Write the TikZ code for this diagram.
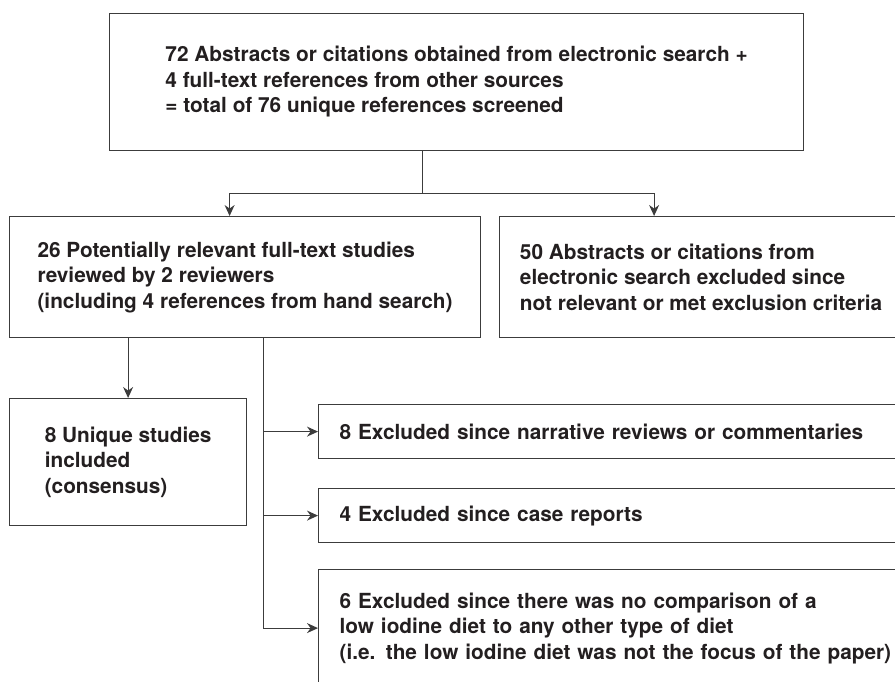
\documentclass[tikz,border=0pt]{standalone}
\usepackage{fontspec}
\setmainfont{TeX Gyre Heros}
\usetikzlibrary{arrows.meta,positioning}

\definecolor{boxline}{RGB}{60,60,60}
\definecolor{boxtext}{RGB}{35,31,32}

\begin{document}
\begin{tikzpicture}[x=1pt, y=-1pt,
	every node/.style={font=\fontsize{20.8}{25.5}\selectfont\bfseries, text=boxtext},
	box/.style={draw=boxline, line width=1.2pt, rectangle, anchor=north west, align=left, inner sep=0pt},
	exclbox/.style={box, text width=580pt, inner xsep=21pt},
	conn/.style={draw=boxline, line width=1.2pt},
	arr/.style={conn, -{Stealth[length=11pt,width=10pt]}}]
	\path[clip, use as bounding box] (0,0) rectangle (895,681);
	
	% Search results
	\node[box, minimum width=694pt, minimum height=137.5pt] (srch) at (109,12.5) {72 Abstracts or citations obtained from electronic search +\\4 full-text references from other sources\\= total of 76 unique references screened};
	
	% Screening
	\node[box, minimum width=471pt, minimum height=121pt] (full) at (9,216) {26 Potentially relevant full-text studies\\reviewed by 2 reviewers\\(including 4 references from hand search)};
	\node[box, minimum width=403pt, minimum height=121pt] (absx) at (499,216) {50 Abstracts or citations from\\electronic search excluded since\\not relevant or met exclusion criteria};
	
	% Included
	\node[box, minimum width=237pt, minimum height=127pt] (incl) at (9,398) {8 Unique studies\\included\\(consensus)};
	
	% Excluded full texts
	\node[exclbox, minimum height=54pt] (ex1) at (318,404) {8 Excluded since narrative reviews or commentaries};
	\node[exclbox, minimum height=54pt] (ex2) at (318,488) {4 Excluded since case reports};
	\node[exclbox, minimum height=117pt] (ex3) at (318,569) {6 Excluded since there was no comparison of a\\low iodine diet to any other type of diet\\(i.e. the low iodine diet was not the focus of the paper)};
	
	% Connectors
	\coordinate (split) at ([xshift=-34pt, yshift=-42pt]srch.south);
	\draw[conn] (srch.south -| split) -- (split);
	\draw[arr] (split) -| ([xshift=-15.5pt]full.north);
	\draw[arr] (split) -| ([xshift=-47pt]absx.north);
	
	\draw[arr] (full.south -| incl.north) -- (incl.north);
	
	\coordinate (trunk) at ([xshift=18.5pt]full.south);
	\draw[arr] (trunk) |- (ex3.west);
	\draw[arr] (trunk |- ex1.west) -- (ex1.west);
	\draw[arr] (trunk |- ex2.west) -- (ex2.west);
\end{tikzpicture}
\end{document}
